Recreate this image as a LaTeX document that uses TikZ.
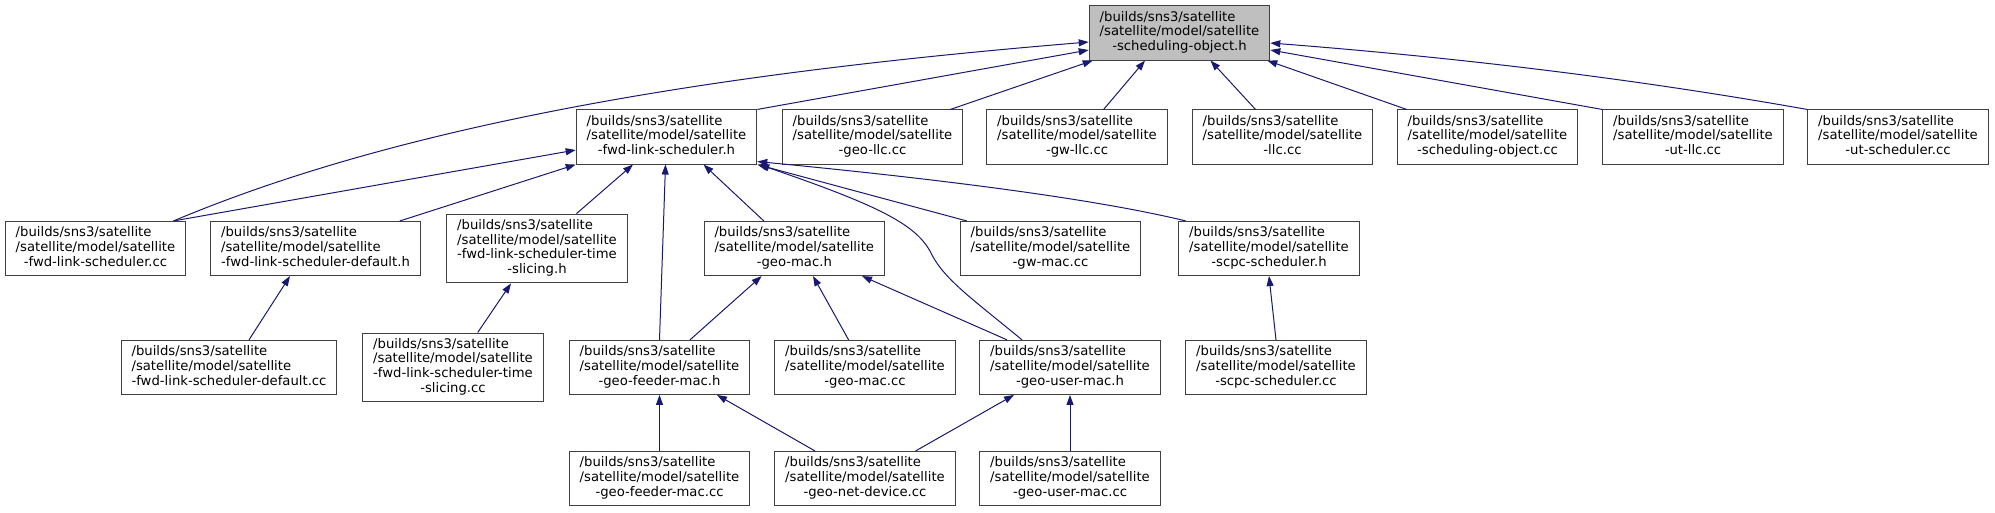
\documentclass[tikz,border=0pt]{standalone}
\usepackage{fontspec}
\setmainfont{DejaVu Sans}
\usepackage{xcolor}
\usepackage{tikz}
\usetikzlibrary{arrows.meta}
\definecolor{edgeblue}{HTML}{191970}
\definecolor{boxgray}{HTML}{404040}
\definecolor{rootgray}{HTML}{BFBFBF}
\tikzstyle{filebox} = [rectangle, draw=boxgray, line width=1pt, fill=white, inner xsep=10.5pt, inner ysep=5pt, font=\fontsize{13.2}{14.7}\selectfont]
\tikzstyle{rootbox} = [filebox, fill=rootgray]
\tikzstyle{arrow} = [draw=edgeblue, line width=1pt, -{Triangle[length=10pt, width=7pt]}]
\newcommand{\flabel}[1]{\begin{tabular}{@{}l@{}}/builds/sns3/satellite\\/satellite/model/satellite\\\multicolumn{1}{@{}c@{}}{#1}\end{tabular}}
\newcommand{\flabelx}[2]{\begin{tabular}{@{}l@{}}/builds/sns3/satellite\\/satellite/model/satellite\\#1\\\multicolumn{1}{@{}c@{}}{#2}\end{tabular}}

\begin{document}
\begin{tikzpicture}[x=1pt, y=-1pt]
    \useasboundingbox[fill=white] (0, 0) rectangle (1995, 512);
    % root
    \node[rootbox] at (1179.5, 33) (root) {\flabel{-scheduling-object.h}};
    % first row
    \node[filebox] at (666.5, 137) (flsh) {\flabel{-fwd-link-scheduler.h}};
    \node[filebox] at (872.5, 137) (geollc) {\flabel{-geo-llc.cc}};
    \node[filebox] at (1077, 137) (gwllc) {\flabel{-gw-llc.cc}};
    \node[filebox] at (1282.5, 137) (llc) {\flabel{-llc.cc}};
    \node[filebox] at (1487.5, 137) (schedcc) {\flabel{-scheduling-object.cc}};
    \node[filebox] at (1693, 137) (utllc) {\flabel{-ut-llc.cc}};
    \node[filebox] at (1898, 137) (utsched) {\flabel{-ut-scheduler.cc}};
    % second row
    \node[filebox] at (95.5, 248.5) (flscc) {\flabel{-fwd-link-scheduler.cc}};
    \node[filebox] at (315.5, 248.5) (flsdefh) {\flabel{-fwd-link-scheduler-default.h}};
    \node[filebox] at (537, 248.5) (flstsh) {\flabelx{-fwd-link-scheduler-time}{-slicing.h}};
    \node[filebox] at (794.3, 248.5) (geomach) {\flabel{-geo-mac.h}};
    \node[filebox] at (1050.5, 248.5) (gwmac) {\flabel{-gw-mac.cc}};
    \node[filebox] at (1269, 248.5) (scpch) {\flabel{-scpc-scheduler.h}};
    % third row
    \node[filebox] at (229, 367.4) (flsdefcc) {\flabel{-fwd-link-scheduler-default.cc}};
    \node[filebox] at (453, 367.4) (flstscc) {\flabelx{-fwd-link-scheduler-time}{-slicing.cc}};
    \node[filebox] at (659.5, 367.4) (geofeedh) {\flabel{-geo-feeder-mac.h}};
    \node[filebox] at (865, 367.4) (geomaccc) {\flabel{-geo-mac.cc}};
    \node[filebox] at (1070, 367.4) (geouserh) {\flabel{-geo-user-mac.h}};
    \node[filebox] at (1276, 367.4) (scpccc) {\flabel{-scpc-scheduler.cc}};
    % fourth row
    \node[filebox] at (659.5, 478.5) (geofeedcc) {\flabel{-geo-feeder-mac.cc}};
    \node[filebox] at (865, 478.5) (geonet) {\flabel{-geo-net-device.cc}};
    \node[filebox] at (1070, 478.5) (geousercc) {\flabel{-geo-user-mac.cc}};
    % edges into the root
    \path[arrow] (flsh.north east) to ([yshift=-17pt]root.west);
    \path[arrow] ([xshift=78pt]flscc.north) .. controls (420, 117) and (750, 70) .. ([yshift=-9pt]root.west);
    \path[arrow] ([xshift=-13pt]geollc.north east) to ([xshift=4pt]root.south west);
    \path[arrow] ([xshift=26.6pt]gwllc.north) to ([xshift=-34.5pt]root.south);
    \path[arrow] ([xshift=-27pt]llc.north) to ([xshift=31pt]root.south);
    \path[arrow] ([xshift=10pt]schedcc.north west) to ([xshift=-3pt]root.south east);
    \path[arrow] (utllc.north west) to ([yshift=-17pt]root.east);
    \path[arrow] (utsched.north west) .. controls (1628, 77.6) and (1451, 57) .. ([yshift=-10pt]root.east);
    % edges into fwd-link-scheduler.h
    \path[arrow] ([xshift=78pt]flscc.north) to ([yshift=-13pt]flsh.west);
    \path[arrow] ([xshift=-21pt]flsdefh.north east) to (flsh.south west);
    \path[arrow] ([xshift=39.5pt]flstsh.north) to ([xshift=-33.5pt]flsh.south);
    \path[arrow] (geofeedh.north) to ([xshift=-1pt]flsh.south);
    \path[arrow] ([xshift=-30.5pt]geomach.north) to ([xshift=37pt]flsh.south);
    \path[arrow] ([xshift=-48pt]geouserh.north) .. controls (975, 301) and (945, 280) .. (932, 255) .. controls (918, 225) and (880, 206) .. ([xshift=2pt]flsh.south east);
    \path[arrow] ([xshift=7pt]gwmac.north west) to (flsh.south east);
    \path[arrow] ([xshift=7.5pt]scpch.north west) .. controls (1100, 200) and (950, 180) .. ([yshift=3pt]flsh.south east);
    % lower edges
    \path[arrow] ([xshift=20pt]flsdefcc.north) to ([xshift=-25.5pt]flsdefh.south);
    \path[arrow] ([xshift=24.7pt]flstscc.north) to ([xshift=-26pt]flstsh.south);
    \path[arrow] ([xshift=30.5pt]geofeedh.north) to ([xshift=-32.7pt]geomach.south);
    \path[arrow] ([xshift=-16.4pt]geomaccc.north) to ([xshift=18.7pt]geomach.south);
    \path[arrow] ([xshift=-63pt]geouserh.north) to ([xshift=67.7pt]geomach.south);
    \path[arrow] (scpccc.north) to (scpch.south);
    \path[arrow] (geofeedcc.north) to (geofeedh.south);
    \path[arrow] ([xshift=-50pt]geonet.north) to ([xshift=57.5pt]geofeedh.south);
    \path[arrow] ([xshift=50.6pt]geonet.north) to ([xshift=-56pt]geouserh.south);
    \path[arrow] (geousercc.north) to (geouserh.south);
\end{tikzpicture}
\end{document}
